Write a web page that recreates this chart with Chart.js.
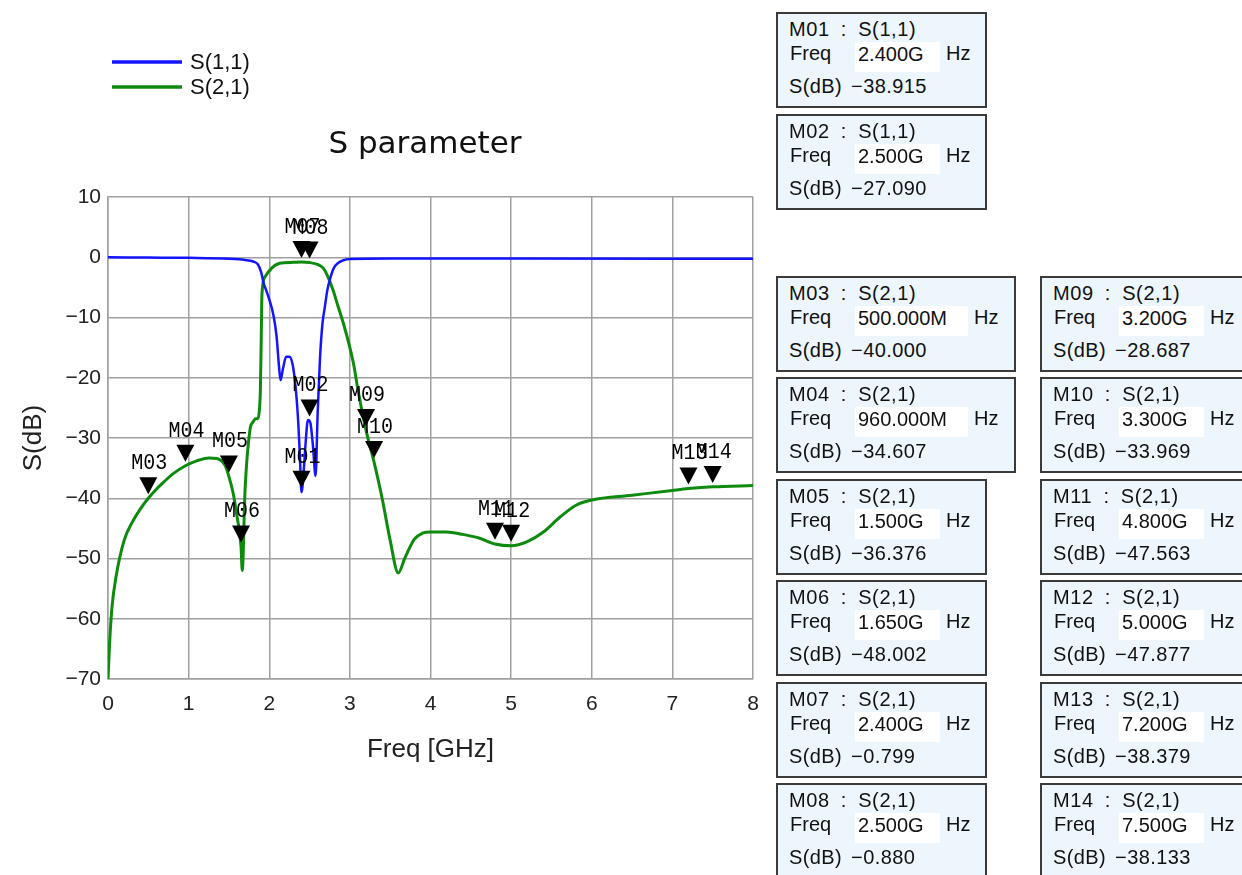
<!DOCTYPE html>
<html>
<head>
<meta charset="utf-8">
<script src="https://cdn.jsdelivr.net/npm/chart.js@4/dist/chart.umd.min.js"></script>
<style>
  html, body { margin:0; padding:0; background:#fff; }
  #wrap { position:relative; width:1242px; height:875px; overflow:hidden; }
  #chartBox { position:absolute; left:0; top:0; width:1242px; height:875px; }
  .mbox { position:absolute; box-sizing:border-box; height:96px; background:#eef6fd; border:2px solid #3a3a3a;
          font-family:"Liberation Sans", Arial, sans-serif; font-size:20px; color:#111; }
  .mbox div { position:absolute; line-height:24px; white-space:pre; }
  .mbox .l1 { word-spacing:5px; letter-spacing:0.6px; }
  .mbox .l3 { word-spacing:3px; letter-spacing:0.4px; }
  .mbox .val { background:#fff; height:30px; line-height:24px; }
</style>
</head>
<body>
<div id="wrap">
  <div id="chartBox"><canvas id="c"></canvas></div>
</div>
<script>
// ---------- data ----------
const seriesNames = ["S(1,1)", "S(2,1)"];

const s11Freq = [0, 0.5, 1.0, 1.5, 1.7, 1.8, 1.86, 1.9, 1.93, 1.96, 2.0, 2.05, 2.09, 2.12, 2.14, 2.17, 2.21, 2.25, 2.29, 2.33, 2.36, 2.38, 2.4, 2.43, 2.45, 2.48, 2.51, 2.54, 2.575, 2.6, 2.63, 2.66, 2.69, 2.72, 2.75, 2.8, 2.85, 2.92, 3.0, 3.5, 5.0, 8.0];
const s11dB   = [0, -0.05, -0.1, -0.25, -0.45, -0.7, -1.2, -2.5, -4.3, -5.4, -7, -9.5, -13, -18, -20.4, -18.5, -16.5, -16.5, -17.8, -22, -27.5, -33, -39, -35, -31, -27, -27.5, -31, -36.3, -26, -16.6, -11, -8.2, -5.5, -3.8, -1.8, -1, -0.5, -0.3, -0.2, -0.22, -0.25];

const s21Freq = [0, 0.02, 0.05, 0.1, 0.2, 0.3, 0.4, 0.5, 0.6, 0.7, 0.8, 0.96, 1.1, 1.25, 1.35, 1.45, 1.5, 1.55, 1.6, 1.65, 1.665, 1.7, 1.76, 1.8, 1.83, 1.86, 1.88, 1.89, 1.9, 1.91, 1.95, 2.03, 2.13, 2.3, 2.4, 2.5, 2.6, 2.67, 2.72, 2.79, 2.85, 2.92, 3.0, 3.05, 3.1, 3.2, 3.3, 3.4, 3.5, 3.6, 3.68, 3.8, 3.9, 4.0, 4.2, 4.4, 4.6, 4.8, 5.0, 5.2, 5.4, 5.6, 5.8, 6.0, 6.5, 7.0, 7.2, 7.5, 8.0];
const s21dB   = [-70, -64, -58, -53, -47, -44, -41.8, -40, -38.5, -37.2, -36, -34.6, -33.8, -33.3, -33.4, -34.5, -36.4, -39, -43, -48, -52, -38.6, -28.7, -27.3, -26.8, -26.8, -25, -22, -14, -6, -3.2, -1.8, -1.0, -0.85, -0.8, -0.88, -1.2, -1.8, -3, -5.4, -8, -11, -15, -18, -22, -28.7, -34, -40, -47, -52.4, -50, -46.8, -45.8, -45.6, -45.6, -46, -46.6, -47.6, -47.9, -47.2, -45.6, -43.2, -41.2, -40.3, -39.5, -38.7, -38.4, -38.1, -37.9];

const markerNames  = ["M01", "M02", "M03", "M04", "M05", "M06", "M07", "M08", "M09", "M10", "M11", "M12", "M13", "M14"];
const markerSeries = ["S(1,1)", "S(1,1)", "S(2,1)", "S(2,1)", "S(2,1)", "S(2,1)", "S(2,1)", "S(2,1)", "S(2,1)", "S(2,1)", "S(2,1)", "S(2,1)", "S(2,1)", "S(2,1)"];
const markerFreq   = [2.4, 2.5, 0.5, 0.96, 1.5, 1.65, 2.4, 2.5, 3.2, 3.3, 4.8, 5.0, 7.2, 7.5];
const markerDB     = [-38.915, -27.090, -40.000, -34.607, -36.376, -48.002, -0.799, -0.880, -28.687, -33.969, -47.563, -47.877, -38.379, -38.133];

const xTicks = [0, 1, 2, 3, 4, 5, 6, 7, 8];
const yTicks = [10, 0, -10, -20, -30, -40, -50, -60, -70];

const chartTitle = "S parameter";
const xTitle = "Freq [GHz]";
const yTitle = "S(dB)";

// ---------- chart ----------
const colors = ["#1414ff", "#0e8a0e"];
const toPts = (xs, ys) => xs.map((x, i) => ({x: x, y: ys[i]}));

const markerPlugin = {
  id: 'markers',
  afterDatasetsDraw(chart) {
    const ctx = chart.ctx, xs = chart.scales.x, ys = chart.scales.y;
    ctx.save();
    markerNames.forEach((name, i) => {
      const px = xs.getPixelForValue(markerFreq[i]);
      const py = ys.getPixelForValue(markerDB[i]);
      const tip = py - 4, top = tip - 17;
      ctx.fillStyle = '#000';
      ctx.beginPath();
      ctx.moveTo(px - 9, top);
      ctx.lineTo(px + 9, top);
      ctx.lineTo(px, tip);
      ctx.closePath();
      ctx.fill();
      ctx.font = '20px "Liberation Mono", monospace';
      ctx.textAlign = 'center';
      ctx.textBaseline = 'alphabetic';
      ctx.save();
      ctx.translate(px + 1, top - 8);
      ctx.scale(1.0, 1.12);
      ctx.fillText(name, 0, 0);
      ctx.restore();
    });
    ctx.restore();
  },
  afterDraw(chart) {
    const ctx = chart.ctx;
    ctx.save();
    // title
    ctx.fillStyle = '#111';
    ctx.font = '31px "DejaVu Sans", sans-serif';
    ctx.textAlign = 'center';
    ctx.textBaseline = 'middle';
    ctx.fillText(chartTitle, 425, 145);
    // legend
    ctx.font = '22px "Liberation Sans", Arial, sans-serif';
    ctx.textAlign = 'left';
    chart.data.datasets.forEach((ds, i) => {
      const y = 62 + i * 25;
      ctx.strokeStyle = ds.borderColor;
      ctx.lineWidth = 3.5;
      ctx.beginPath();
      ctx.moveTo(112, y);
      ctx.lineTo(182, y);
      ctx.stroke();
      ctx.fillStyle = '#111';
      ctx.fillText(ds.label, 190, y + 1);
    });
    ctx.restore();
  }
};

new Chart(document.getElementById('c'), {
  type: 'scatter',
  data: {
    datasets: [
      { label: seriesNames[0], data: toPts(s11Freq, s11dB), borderColor: colors[0], backgroundColor: colors[0],
        showLine: true, pointRadius: 0, borderWidth: 2.5, cubicInterpolationMode: 'monotone' },
      { label: seriesNames[1], data: toPts(s21Freq, s21dB), borderColor: colors[1], backgroundColor: colors[1],
        showLine: true, pointRadius: 0, borderWidth: 3, cubicInterpolationMode: 'monotone' }
    ]
  },
  options: {
    responsive: true,
    maintainAspectRatio: false,
    devicePixelRatio: 1,
    animation: false,
    layout: { padding: { left: 0, top: 197, right: 489, bottom: 110 } },
    plugins: { legend: { display: false }, title: { display: false }, tooltip: { enabled: false } },
    scales: {
      x: {
        type: 'linear', min: 0, max: 8,
        afterBuildTicks: (s) => { s.ticks = xTicks.map(v => ({value: v})); },
        afterFit: (s) => { s.height = 86; },
        grid: { color: '#a0a0a0', lineWidth: 1.5, drawTicks: false },
        border: { color: '#a0a0a0', width: 1.5 },
        ticks: { color: '#222', padding: 13, font: { family: '"Liberation Sans", Arial, sans-serif', size: 21 } },
        title: { display: true, text: xTitle, color: '#222', padding: { top: 10, bottom: 0 },
                 font: { family: '"Liberation Sans", Arial, sans-serif', size: 26 } }
      },
      y: {
        type: 'linear', min: -70, max: 10,
        afterBuildTicks: (s) => { s.ticks = yTicks.map(v => ({value: v})); },
        afterFit: (s) => { s.width = 108; },
        grid: { color: '#a0a0a0', lineWidth: 1.5, drawTicks: false },
        border: { color: '#a0a0a0', width: 1.5 },
        ticks: { color: '#222', padding: 7, font: { family: '"Liberation Sans", Arial, sans-serif', size: 21 },
                 callback: (v) => (v < 0 ? '\u2212' + Math.abs(v) : String(v)) },
        title: { display: true, text: yTitle, color: '#222', padding: { top: 18, bottom: 0 },
                 font: { family: '"Liberation Sans", Arial, sans-serif', size: 26 } }
      }
    }
  },
  plugins: [markerPlugin]
});

// ---------- marker readout boxes ----------
const wrap = document.getElementById('wrap');
const boxLeft = [776, 776, 776, 776, 776, 776, 776, 776, 1040, 1040, 1040, 1040, 1040, 1040];
const boxTop  = [12, 114, 276, 377, 479, 580, 682, 783, 276, 377, 479, 580, 682, 783];
markerNames.forEach((name, i) => {
  const f = markerFreq[i];
  const fStr = f < 1 ? (f * 1000).toFixed(3) + 'M' : f.toFixed(3) + 'G';
  const wide = f < 1;
  const w = wide ? 240 : 211;
  const b = document.createElement('div');
  b.className = 'mbox';
  b.style.left = boxLeft[i] + 'px';
  b.style.top = boxTop[i] + 'px';
  b.style.width = w + 'px';
  const vw = wide ? 113 : 85;
  const dbStr = (markerDB[i] < 0 ? '\u2212' : '') + Math.abs(markerDB[i]).toFixed(3);
  b.innerHTML =
    '<div class="l1" style="left:11px;top:3px">' + name + ' : ' + markerSeries[i] + '</div>' +
    '<div class="val" style="left:77px;top:28px;width:' + vw + 'px;padding-left:3px;box-sizing:border-box">' + fStr + '</div>' +
    '<div style="left:12px;top:27px">Freq</div>' +
    '<div style="left:' + (77 + vw + 6) + 'px;top:27px">Hz</div>' +
    '<div class="l3" style="left:11px;top:60px">S(dB) ' + dbStr + '</div>';
  wrap.appendChild(b);
});
</script>
</body>
</html>
